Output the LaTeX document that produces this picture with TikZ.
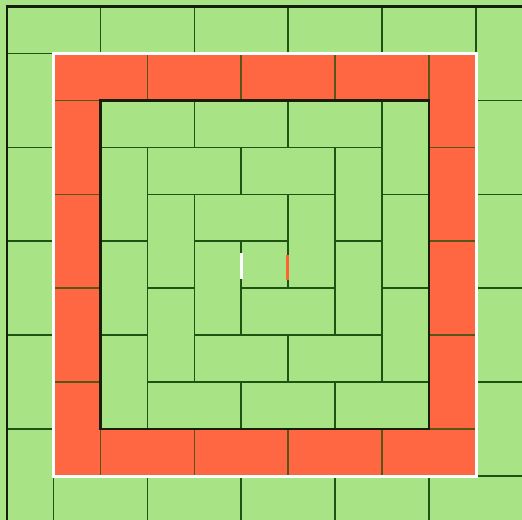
\documentclass[tikz,border=0pt]{standalone}
\definecolor{tilegreen}{RGB}{168,228,134}
\definecolor{tilered}{RGB}{255,102,66}
\definecolor{greenedge}{RGB}{28,85,18}
\definecolor{rededge}{RGB}{88,86,22}
\definecolor{darkedge}{RGB}{22,30,12}
\definecolor{markred}{RGB}{255,98,48}
\tikzset{tile/.style={line width=1.1pt}}
\begin{document}
\begin{tikzpicture}[yscale=-1]
\useasboundingbox (-0.14,-0.14) rectangle (10.975,10.93);
\clip (-0.14,-0.14) rectangle (10.975,10.93);
\fill[tilegreen] (-0.14,-0.14) rectangle (11,10.95);
\foreach \k/\fc/\ec in {0/tilegreen/greenedge,1/tilered/rededge,2/tilegreen/greenedge,3/tilegreen/greenedge,4/tilegreen/greenedge}{
  \pgfmathtruncatemacro\a{\k}
  \pgfmathtruncatemacro\b{10-\k}
  \pgfmathtruncatemacro\m{4-\k}
  \foreach \i in {0,...,\m}{
    \pgfmathtruncatemacro\p{\a+2*\i}
    \pgfmathtruncatemacro\q{\a+2*\i+1}
    \draw[tile,fill=\fc,draw=\ec] (\p,\a) rectangle ++(2,1);
    \draw[tile,fill=\fc,draw=\ec] (\b,\p) rectangle ++(1,2);
    \draw[tile,fill=\fc,draw=\ec] (\q,\b) rectangle ++(2,1);
    \draw[tile,fill=\fc,draw=\ec] (\a,\q) rectangle ++(1,2);
  }
}
\draw[darkedge,line width=1.3pt] (2,2) rectangle (9,9);
\draw[darkedge,line width=1.3pt] (0,11) -- (0,0) -- (11,0);
\draw[white,line width=1.8pt] (1,1) rectangle (10,10);
\draw[white,line width=2pt] (5,5.25) -- (5,5.8);
\draw[markred,line width=2.2pt] (5.985,5.3) -- (5.985,5.83);
\end{tikzpicture}
\end{document}
